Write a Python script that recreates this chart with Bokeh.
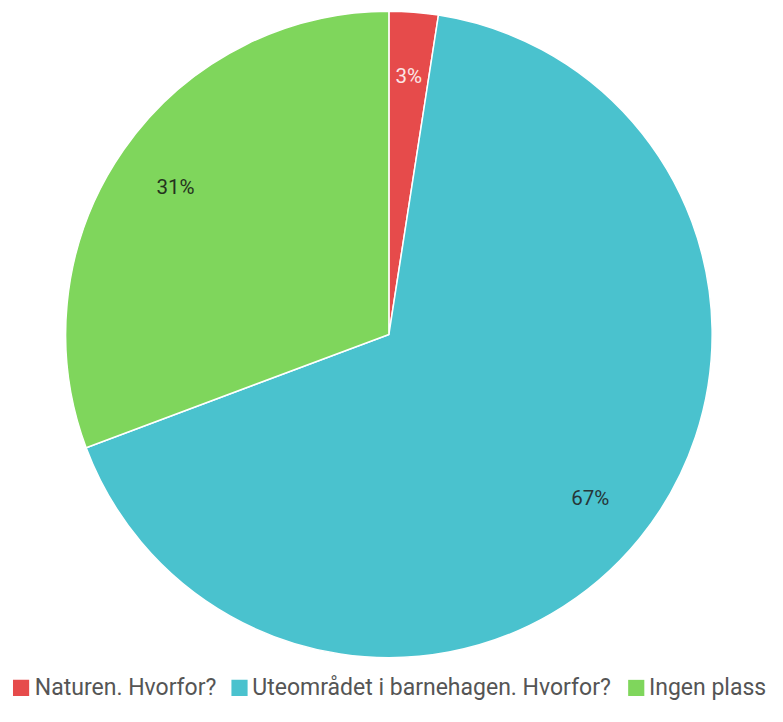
import numpy as np
from bokeh.plotting import figure
from bokeh.models import Range1d, ColumnDataSource
from bokeh.embed import file_html
from bokeh.resources import INLINE
from bokeh.core.properties import value

# ---- data ----
categories = ["Naturen. Hvorfor?", "Uteområdet i barnehagen. Hvorfor?", "Ingen plass"]
shares = [2.45, 66.85, 30.7]
pct_labels = ["3%", "67%", "31%"]
colors = ["#E64B4B", "#4AC2CE", "#7FD65C"]
label_colors = ["#FBE6E6", "#263638", "#24321D"]

# ---- layout (reference-pixel coordinates, y downward negated) ----
W, H = 767, 706
REF_W, REF_H = 783, 722
cx, cy, R = 396.5, -341.5, 330
label_r = 265
legend_y = -703
legend_square_cx = [21, 244, 649]
legend_text_x = [35, 257, 662]
square = 16.5

p = figure(width=W, height=H, output_backend="svg", toolbar_location=None,
           x_range=Range1d(0, REF_W), y_range=Range1d(-REF_H, 0),
           x_axis_location=None, y_axis_location=None,
           min_border=0, min_border_left=0, min_border_right=0,
           min_border_top=0, min_border_bottom=0)
p.grid.visible = False
p.outline_line_color = None
p.background_fill_color = "white"
p.border_fill_color = "white"

frac = np.array(shares) / np.sum(shares)
cum = np.cumsum(frac)
start = cum - frac
start_angle = np.pi / 2 - 2 * np.pi * start
end_angle = np.pi / 2 - 2 * np.pi * cum
mid = np.pi / 2 - 2 * np.pi * (start + frac / 2)

src = ColumnDataSource(dict(
    start=start_angle, end=end_angle, color=colors,
    lx=cx + label_r * np.cos(mid), ly=cy + label_r * np.sin(mid),
    lab=pct_labels, lcol=label_colors,
))

p.wedge(x=cx, y=cy, radius=R, start_angle="start", end_angle="end",
        direction="clock", fill_color="color", line_color="white",
        line_width=1.5, source=src)

p.text(x="lx", y="ly", text="lab", text_color="lcol", source=src,
       text_font=value("Roboto"), text_font_size="20.5px",
       text_align="center", text_baseline="middle")

leg = ColumnDataSource(dict(
    sx=legend_square_cx,
    tx=legend_text_x,
    y=[legend_y] * len(categories),
    name=categories, color=colors,
))
p.rect(x="sx", y="y", width=square, height=square, fill_color="color",
       line_color=None, source=leg)
p.text(x="tx", y="y", text="name", source=leg, text_color="#555555",
       text_font=value("Roboto"), text_font_size="23px",
       text_align="left", text_baseline="middle")

open("out.html", "w").write(file_html(p, INLINE))
